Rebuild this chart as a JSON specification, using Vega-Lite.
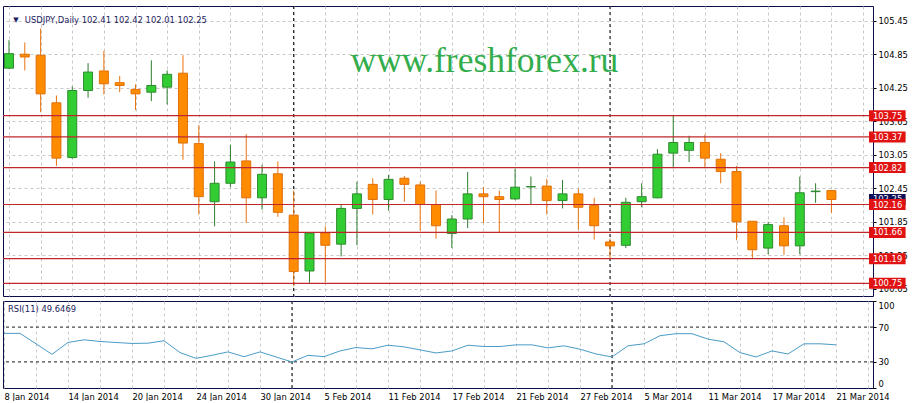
{
  "$schema": "https://vega.github.io/schema/vega-lite/v6.json",
  "padding": {"left": 1, "top": 5, "right": 0, "bottom": 0},
  "background": "white",
  "spacing": 3,
  "config": {
    "view": {"stroke": "#0c0c46", "strokeWidth": 1},
    "font": "DejaVu Sans",
    "axis": {"labelFont": "DejaVu Sans", "labelFontSize": 8.4, "labelColor": "#000000", "tickColor": "#000000", "tickSize": 3, "domain": false, "gridColor": "#c8c8c8", "gridDash": [3, 3], "gridWidth": 1, "title": null, "labelOverlap": false, "tickCount": 100}
  },
  "datasets": {
    "bars": [
      {"i": 0, "o": 104.60, "h": 105.10, "l": 104.59, "c": 104.86, "r": 62.8},
      {"i": 1, "o": 104.85, "h": 105.06, "l": 104.56, "c": 104.80, "r": 62.8},
      {"i": 2, "o": 104.83, "h": 105.31, "l": 103.81, "c": 104.14, "r": 50.8},
      {"i": 3, "o": 103.98, "h": 104.11, "l": 102.85, "c": 102.99, "r": 38.7},
      {"i": 4, "o": 103.00, "h": 104.27, "l": 102.98, "c": 104.20, "r": 52.3},
      {"i": 5, "o": 104.20, "h": 104.69, "l": 104.07, "c": 104.53, "r": 55.4},
      {"i": 6, "o": 104.55, "h": 104.91, "l": 104.13, "c": 104.32, "r": 53.5},
      {"i": 7, "o": 104.34, "h": 104.46, "l": 104.17, "c": 104.29, "r": 52.3},
      {"i": 8, "o": 104.22, "h": 104.31, "l": 103.85, "c": 104.14, "r": 51.2},
      {"i": 9, "o": 104.17, "h": 104.74, "l": 104.01, "c": 104.29, "r": 51.5},
      {"i": 10, "o": 104.26, "h": 104.56, "l": 103.95, "c": 104.49, "r": 54.3},
      {"i": 11, "o": 104.51, "h": 104.83, "l": 102.96, "c": 103.26, "r": 40.7},
      {"i": 12, "o": 103.25, "h": 103.58, "l": 101.98, "c": 102.30, "r": 34.1},
      {"i": 13, "o": 102.21, "h": 102.93, "l": 101.77, "c": 102.54, "r": 37.6},
      {"i": 14, "o": 102.54, "h": 103.23, "l": 102.47, "c": 102.92, "r": 41.5},
      {"i": 15, "o": 102.94, "h": 103.42, "l": 101.83, "c": 102.28, "r": 36.0},
      {"i": 16, "o": 102.28, "h": 102.87, "l": 102.07, "c": 102.70, "r": 41.5},
      {"i": 17, "o": 102.71, "h": 102.93, "l": 101.94, "c": 102.02, "r": 35.7},
      {"i": 18, "o": 101.97, "h": 102.41, "l": 100.70, "c": 100.96, "r": 29.9},
      {"i": 19, "o": 100.97, "h": 101.65, "l": 100.76, "c": 101.65, "r": 37.6},
      {"i": 20, "o": 101.65, "h": 101.77, "l": 100.77, "c": 101.43, "r": 36.0},
      {"i": 21, "o": 101.45, "h": 102.15, "l": 101.23, "c": 102.09, "r": 42.6},
      {"i": 22, "o": 102.09, "h": 102.57, "l": 101.43, "c": 102.35, "r": 46.5},
      {"i": 23, "o": 102.52, "h": 102.63, "l": 101.98, "c": 102.25, "r": 45.0},
      {"i": 24, "o": 102.25, "h": 102.69, "l": 102.05, "c": 102.61, "r": 49.2},
      {"i": 25, "o": 102.63, "h": 102.67, "l": 102.21, "c": 102.52, "r": 47.3},
      {"i": 26, "o": 102.51, "h": 102.57, "l": 101.69, "c": 102.16, "r": 43.8},
      {"i": 27, "o": 102.16, "h": 102.41, "l": 101.55, "c": 101.78, "r": 40.3},
      {"i": 28, "o": 101.64, "h": 101.97, "l": 101.38, "c": 101.90, "r": 42.6},
      {"i": 29, "o": 101.90, "h": 102.74, "l": 101.74, "c": 102.35, "r": 49.2},
      {"i": 30, "o": 102.35, "h": 102.47, "l": 101.83, "c": 102.30, "r": 47.7},
      {"i": 31, "o": 102.30, "h": 102.41, "l": 101.66, "c": 102.25, "r": 47.7},
      {"i": 32, "o": 102.26, "h": 102.80, "l": 102.24, "c": 102.47, "r": 49.6},
      {"i": 33, "o": 102.475, "h": 102.66, "l": 102.16, "c": 102.48, "r": 49.6},
      {"i": 34, "o": 102.49, "h": 102.62, "l": 101.98, "c": 102.23, "r": 46.1},
      {"i": 35, "o": 102.23, "h": 102.60, "l": 102.09, "c": 102.35, "r": 48.5},
      {"i": 36, "o": 102.35, "h": 102.44, "l": 101.71, "c": 102.11, "r": 44.6},
      {"i": 37, "o": 102.14, "h": 102.28, "l": 101.53, "c": 101.78, "r": 39.1},
      {"i": 38, "o": 101.49, "h": 101.55, "l": 101.19, "c": 101.42, "r": 35.7},
      {"i": 39, "o": 101.43, "h": 102.28, "l": 101.38, "c": 102.20, "r": 48.5},
      {"i": 40, "o": 102.21, "h": 102.54, "l": 102.11, "c": 102.30, "r": 50.8},
      {"i": 41, "o": 102.28, "h": 103.15, "l": 102.27, "c": 103.06, "r": 60.1},
      {"i": 42, "o": 103.08, "h": 103.75, "l": 102.83, "c": 103.27, "r": 62.4},
      {"i": 43, "o": 103.13, "h": 103.39, "l": 102.92, "c": 103.27, "r": 62.4},
      {"i": 44, "o": 103.27, "h": 103.41, "l": 102.83, "c": 102.99, "r": 56.2},
      {"i": 45, "o": 102.97, "h": 103.08, "l": 102.54, "c": 102.75, "r": 53.1},
      {"i": 46, "o": 102.75, "h": 102.85, "l": 101.52, "c": 101.85, "r": 40.7},
      {"i": 47, "o": 101.86, "h": 101.86, "l": 101.20, "c": 101.35, "r": 35.7},
      {"i": 48, "o": 101.38, "h": 101.85, "l": 101.27, "c": 101.80, "r": 42.6},
      {"i": 49, "o": 101.78, "h": 101.93, "l": 101.26, "c": 101.42, "r": 39.1},
      {"i": 50, "o": 101.42, "h": 102.66, "l": 101.27, "c": 102.37, "r": 50.8},
      {"i": 51, "o": 102.39, "h": 102.54, "l": 102.19, "c": 102.40, "r": 50.8},
      {"i": 52, "o": 102.41, "h": 102.42, "l": 102.01, "c": 102.25, "r": 49.6469}
    ],
    "levels": [
      {"lv": 103.75}, {"lv": 103.37}, {"lv": 102.82}, {"lv": 102.16}, {"lv": 101.66}, {"lv": 101.19}, {"lv": 100.75}
    ],
    "current": [{"p": 102.25}],
    "seps": [{"s": 18}, {"s": 38}],
    "rsilevels": [{"v": 30}, {"v": 70}],
    "one": [{}]
  },
  "vconcat": [
    {
      "width": 870,
      "height": 290,
      "layer": [
        {
          "data": {"name": "seps"},
          "mark": {"type": "rule", "color": "#000000", "strokeDash": [3, 3], "strokeWidth": 1},
          "encoding": {
            "x": {"field": "s", "type": "quantitative", "scale": {"domain": [-0.0625, 54.3125], "nice": false, "zero": false},
              "axis": {"values": [0, 2, 4, 6, 8, 10, 12, 14, 16, 18, 20, 22, 24, 26, 28, 30, 32, 34, 36, 38, 40, 42, 44, 46, 48, 50, 52, 54], "tickCount": 100, "labels": false, "ticks": false, "grid": true}}
          }
        },
        {
          "data": {"name": "bars"},
          "mark": {"type": "rule", "strokeWidth": 1, "clip": true},
          "encoding": {
            "x": {"field": "i", "type": "quantitative"},
            "y": {"field": "l", "type": "quantitative", "scale": {"domain": [100.612, 105.623], "nice": false, "zero": false},
              "axis": {"orient": "right", "values": [100.65, 101.25, 101.85, 102.45, 103.05, 103.65, 104.25, 104.85, 105.45], "tickCount": 100, "format": ".2f", "grid": true, "labelPadding": 2}},
            "y2": {"field": "h"},
            "color": {"condition": {"test": "datum.c >= datum.o", "value": "#2e7d2e"}, "value": "#e8720c"}
          }
        },
        {
          "data": {"name": "bars"},
          "mark": {"type": "bar", "width": 9, "strokeWidth": 1, "clip": true},
          "encoding": {
            "x": {"field": "i", "type": "quantitative"},
            "y": {"field": "o", "type": "quantitative"},
            "y2": {"field": "c"},
            "fill": {"condition": {"test": "datum.c >= datum.o", "value": "#32cd32"}, "value": "#ff8c00"},
            "stroke": {"condition": {"test": "datum.c >= datum.o", "value": "#2e8a2e"}, "value": "#e0700a"}
          }
        },
        {
          "data": {"name": "levels"},
          "mark": {"type": "rule", "color": "#c0282d", "strokeWidth": 1.2},
          "encoding": {
            "y": {"field": "lv", "type": "quantitative"}
          }
        },
        {
          "data": {"name": "one"},
          "mark": {"type": "text", "text": "www.freshforex.ru", "font": "Liberation Serif", "fontSize": 35.5, "color": "#33ad4c", "align": "center", "baseline": "alphabetic"},
          "encoding": {"x": {"datum": 30.06}, "y": {"datum": 104.534}}
        },
        {
          "data": {"name": "one"},
          "mark": {"type": "text", "text": "▼", "fontSize": 7, "color": "#1b1b5e", "align": "center", "baseline": "middle"},
          "encoding": {"x": {"datum": 0.4375}, "y": {"datum": 105.467}}
        },
        {
          "data": {"name": "one"},
          "mark": {"type": "text", "text": "USDJPY,Daily  102.41 102.42 102.01 102.25", "font": "DejaVu Sans", "fontSize": 8.4, "color": "#1b1b5e", "align": "left", "baseline": "middle"},
          "encoding": {"x": {"datum": 1.0}, "y": {"datum": 105.467}}
        },
        {
          "data": {"name": "current"},
          "mark": {"type": "bar", "height": 11, "color": "#10105a"},
          "encoding": {"x": {"datum": 54.375}, "x2": {"datum": 56.69}, "y": {"field": "p", "type": "quantitative"}}
        },
        {
          "data": {"name": "current"},
          "mark": {"type": "text", "color": "#ffffff", "align": "left", "baseline": "middle", "fontSize": 8.4},
          "encoding": {"x": {"datum": 54.625}, "y": {"field": "p", "type": "quantitative"}, "text": {"field": "p", "type": "quantitative", "format": ".2f"}}
        },
        {
          "data": {"name": "levels"},
          "mark": {"type": "bar", "height": 11, "color": "#e01212"},
          "encoding": {"x": {"datum": 54.375}, "x2": {"datum": 56.69}, "y": {"field": "lv", "type": "quantitative"}}
        },
        {
          "data": {"name": "levels"},
          "mark": {"type": "text", "color": "#ffffff", "align": "left", "baseline": "middle", "fontSize": 8.4},
          "encoding": {"x": {"datum": 54.625}, "y": {"field": "lv", "type": "quantitative"}, "text": {"field": "lv", "type": "quantitative", "format": ".2f"}}
        }
      ]
    },
    {
      "width": 870,
      "height": 87,
      "layer": [
        {
          "data": {"name": "rsilevels"},
          "mark": {"type": "rule", "color": "#1a1a1a", "strokeDash": [3, 3], "strokeWidth": 1},
          "encoding": {
            "y": {"field": "v", "type": "quantitative", "scale": {"domain": [0, 100], "nice": false},
              "axis": {"orient": "right", "values": [0, 30, 70, 100], "tickCount": 100, "grid": false, "labelFlush": true, "labelPadding": 2}}
          }
        },
        {
          "data": {"name": "seps"},
          "mark": {"type": "rule", "color": "#000000", "strokeDash": [3, 3], "strokeWidth": 1},
          "encoding": {
            "x": {"field": "s", "type": "quantitative", "scale": {"domain": [-0.0625, 54.3125], "nice": false, "zero": false},
              "axis": {"values": [0, 2, 4, 6, 8, 10, 12, 14, 16, 18, 20, 22, 24, 26, 28, 30, 32, 34, 36, 38, 40, 42, 44, 46, 48, 50, 52, 54], "tickCount": 100, "grid": true, "ticks": false, "labelAlign": "left", "labelPadding": 4, "labelFlush": false,
                "labelExpr": "datum.value % 4 == 0 && datum.value <= 52 ? ['8 Jan 2014','14 Jan 2014','20 Jan 2014','24 Jan 2014','30 Jan 2014','5 Feb 2014','11 Feb 2014','17 Feb 2014','21 Feb 2014','27 Feb 2014','5 Mar 2014','11 Mar 2014','17 Mar 2014','21 Mar 2014'][datum.value / 4] : ''"}}
          }
        },
        {
          "data": {"name": "bars"},
          "mark": {"type": "line", "color": "#4a9cc6", "strokeWidth": 1},
          "encoding": {
            "x": {"field": "i", "type": "quantitative"},
            "y": {"field": "r", "type": "quantitative"}
          }
        },
        {
          "data": {"name": "one"},
          "mark": {"type": "text", "text": "RSI(11) 49.6469", "fontSize": 8.4, "color": "#1b1b5e", "align": "left", "baseline": "middle"},
          "encoding": {"x": {"datum": 0.25}, "y": {"datum": 90.5}}
        }
      ]
    }
  ]
}
